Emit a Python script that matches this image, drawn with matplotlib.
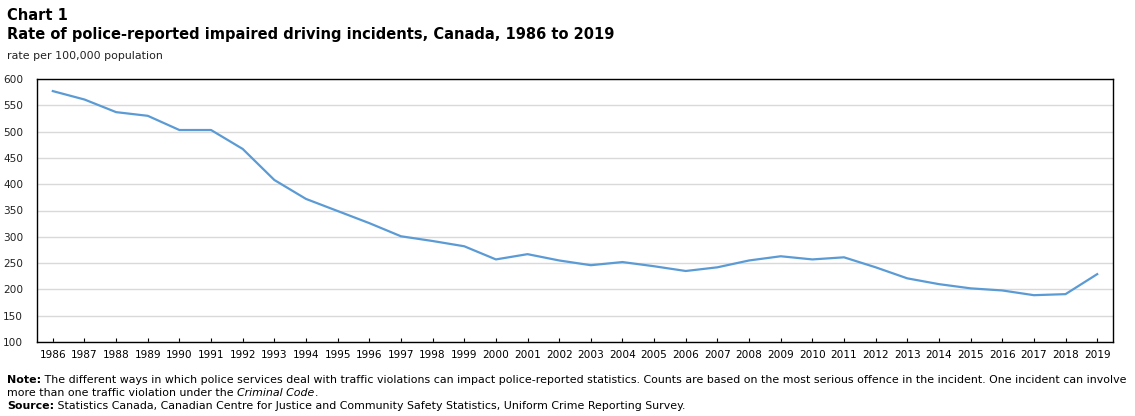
import matplotlib
matplotlib.use("Agg")
import matplotlib.pyplot as plt

years = list(range(1986, 2020))
rates = [577, 561, 537, 530, 503, 503, 467, 408, 372, 349, 326, 301, 292, 282,
         257, 267, 255, 246, 252, 244, 235, 242, 255, 263, 257, 261, 242, 221,
         210, 202, 198, 189, 191, 229]
yticks = [100, 150, 200, 250, 300, 350, 400, 450, 500, 550, 600]

W, H = 1135, 416
fig = plt.figure(figsize=(W / 100, H / 100), dpi=100)
ax = fig.add_axes([37 / W, (H - 342) / H, (1113 - 37) / W, (342 - 79) / H])

ax.plot(years, rates, color="#5b9bd5", linewidth=1.6, zorder=3)
ax.set_xlim(1985.5, 2019.5)
ax.set_ylim(100, 600)
ax.set_yticks(yticks)
ax.set_xticks(years)
ax.set_xticklabels([str(y) for y in years])
ax.grid(axis="y", color="#d9d9d9", linewidth=1.0)
ax.set_axisbelow(True)
for s in ax.spines.values():
    s.set_color("black")
    s.set_linewidth(1.0)
ax.tick_params(axis="x", direction="in", length=3, width=0.8, pad=6,
               labelsize=7.6, colors="black")
ax.tick_params(axis="y", length=0, pad=10, labelsize=7.6, labelcolor="#222222")

fig.text(7 / W, 1 - 20 / H, "Chart 1", fontsize=10.5, fontweight="bold",
         ha="left", va="baseline", color="black")
fig.text(7 / W, 1 - 39 / H,
         "Rate of police-reported impaired driving incidents, Canada, 1986 to 2019",
         fontsize=10.5, fontweight="bold", ha="left", va="baseline", color="black")
fig.text(7 / W, 1 - 59 / H, "rate per 100,000 population", fontsize=7.9,
         ha="left", va="baseline", color="#222222")

renderer = fig.canvas.get_renderer()
NFS = 7.9


def rich_line(x_px, y_px, parts):
    x = x_px
    for txt, kw in parts:
        t = fig.text(x / W, 1 - y_px / H, txt, fontsize=NFS, ha="left",
                     va="baseline", color="black", **kw)
        bb = t.get_window_extent(renderer=renderer)
        x += bb.width


rich_line(7, 383, [("Note:", {"fontweight": "bold"}),
                   (" The different ways in which police services deal with traffic violations can impact police-reported statistics. Counts are based on the most serious offence in the incident. One incident can involve", {})])
rich_line(7, 396, [("more than one traffic violation under the ", {}),
                   ("Criminal Code", {"fontstyle": "italic"}),
                   (".", {})])
rich_line(7, 409, [("Source:", {"fontweight": "bold"}),
                   (" Statistics Canada, Canadian Centre for Justice and Community Safety Statistics, Uniform Crime Reporting Survey.", {})])

fig.savefig("out.png", dpi=100)
